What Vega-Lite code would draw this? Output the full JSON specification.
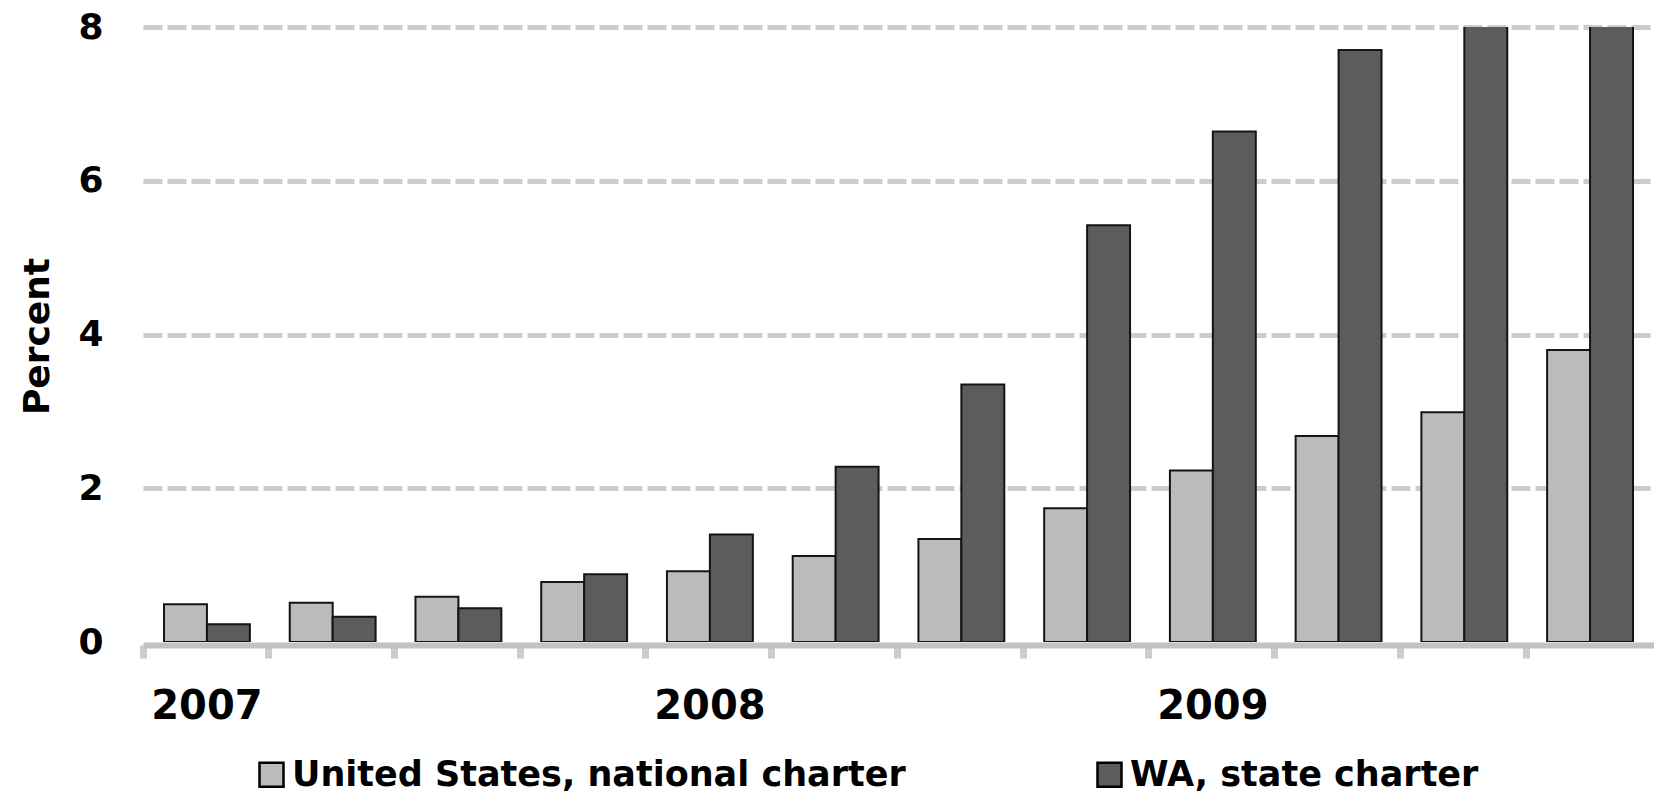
{
  "$schema": "https://vega.github.io/schema/vega-lite/v6.json",
  "width": 1511,
  "height": 615,
  "autosize": "none",
  "padding": {"left": 143, "top": 27, "right": 0, "bottom": 151},
  "background": "white",
  "config": {"view": {"stroke": null}, "font": "DejaVu Sans"},
  "data": {"values": [
    {"quarter": "2007 Q1", "charter": "United States, national charter", "percent": 0.49},
    {"quarter": "2007 Q1", "charter": "WA, state charter", "percent": 0.23},
    {"quarter": "2007 Q2", "charter": "United States, national charter", "percent": 0.51},
    {"quarter": "2007 Q2", "charter": "WA, state charter", "percent": 0.33},
    {"quarter": "2007 Q3", "charter": "United States, national charter", "percent": 0.59},
    {"quarter": "2007 Q3", "charter": "WA, state charter", "percent": 0.44},
    {"quarter": "2007 Q4", "charter": "United States, national charter", "percent": 0.78},
    {"quarter": "2007 Q4", "charter": "WA, state charter", "percent": 0.88},
    {"quarter": "2008 Q1", "charter": "United States, national charter", "percent": 0.92},
    {"quarter": "2008 Q1", "charter": "WA, state charter", "percent": 1.40},
    {"quarter": "2008 Q2", "charter": "United States, national charter", "percent": 1.12},
    {"quarter": "2008 Q2", "charter": "WA, state charter", "percent": 2.28},
    {"quarter": "2008 Q3", "charter": "United States, national charter", "percent": 1.34},
    {"quarter": "2008 Q3", "charter": "WA, state charter", "percent": 3.35},
    {"quarter": "2008 Q4", "charter": "United States, national charter", "percent": 1.74},
    {"quarter": "2008 Q4", "charter": "WA, state charter", "percent": 5.42},
    {"quarter": "2009 Q1", "charter": "United States, national charter", "percent": 2.23},
    {"quarter": "2009 Q1", "charter": "WA, state charter", "percent": 6.64},
    {"quarter": "2009 Q2", "charter": "United States, national charter", "percent": 2.68},
    {"quarter": "2009 Q2", "charter": "WA, state charter", "percent": 7.70},
    {"quarter": "2009 Q3", "charter": "United States, national charter", "percent": 2.99},
    {"quarter": "2009 Q3", "charter": "WA, state charter", "percent": 8.9},
    {"quarter": "2009 Q4", "charter": "United States, national charter", "percent": 3.80},
    {"quarter": "2009 Q4", "charter": "WA, state charter", "percent": 9.7}
  ]},
  "mark": {"type": "bar", "clip": true, "stroke": "#141414", "strokeWidth": 2},
  "encoding": {
    "x": {
      "field": "quarter",
      "type": "nominal",
      "sort": null,
      "scale": {"paddingInner": 0.317, "paddingOuter": 0.167},
      "axis": {
        "title": null,
        "orient": "bottom",
        "offset": 3,
        "zindex": 1,
        "bandPosition": -0.244,
        "domainColor": "#c2c2c2",
        "domainWidth": 6,
        "ticks": true,
        "tickColor": "#cccccc",
        "tickWidth": 7,
        "tickSize": 13,
        "labelAngle": 0,
        "labelAlign": "center",
        "labelFont": "DejaVu Sans",
        "labelFontWeight": "bold",
        "labelFontSize": 40,
        "labelColor": "#000000",
        "labelPadding": 28,
        "labelOverlap": false,
        "labelExpr": "slice(datum.value, 4) == ' Q1' ? slice(datum.value, 0, 4) : ''",
        "grid": false
      }
    },
    "xOffset": {
      "field": "charter",
      "type": "nominal",
      "sort": ["United States, national charter", "WA, state charter"]
    },
    "y": {
      "field": "percent",
      "type": "quantitative",
      "scale": {"domain": [0, 8], "nice": false},
      "axis": {
        "title": "Percent",
        "values": [0, 2, 4, 6, 8],
        "domain": false,
        "ticks": false,
        "labelFont": "DejaVu Sans",
        "labelFontWeight": "bold",
        "labelFontSize": 36,
        "labelColor": "#000000",
        "labelPadding": 40,
        "grid": true,
        "gridColor": "#cccccc",
        "gridWidth": 5,
        "gridDash": [19, 5],
        "gridOpacity": {"condition": {"test": "datum.value == 0", "value": 0}, "value": 1},
        "titleFont": "DejaVu Sans",
        "titleFontWeight": "bold",
        "titleFontSize": 36,
        "titleColor": "#000000",
        "titleAngle": 270,
        "titleX": -95,
        "titleY": 309,
        "titleAlign": "center",
        "titleBaseline": "alphabetic"
      }
    },
    "color": {
      "field": "charter",
      "type": "nominal",
      "scale": {
        "domain": ["United States, national charter", "WA, state charter"],
        "range": ["#bbbbbb", "#5c5c5c"]
      },
      "legend": {
        "orient": "none",
        "legendX": 111,
        "legendY": 730,
        "direction": "horizontal",
        "title": null,
        "padding": 0,
        "symbolType": "square",
        "symbolSize": 576,
        "symbolStrokeColor": "#000000",
        "symbolStrokeWidth": 2.5,
        "labelFont": "DejaVu Sans",
        "labelFontWeight": "bold",
        "labelFontSize": 35,
        "labelColor": "#000000",
        "labelOffset": 3,
        "labelLimit": 1000,
        "columnPadding": 186
      }
    }
  }
}
